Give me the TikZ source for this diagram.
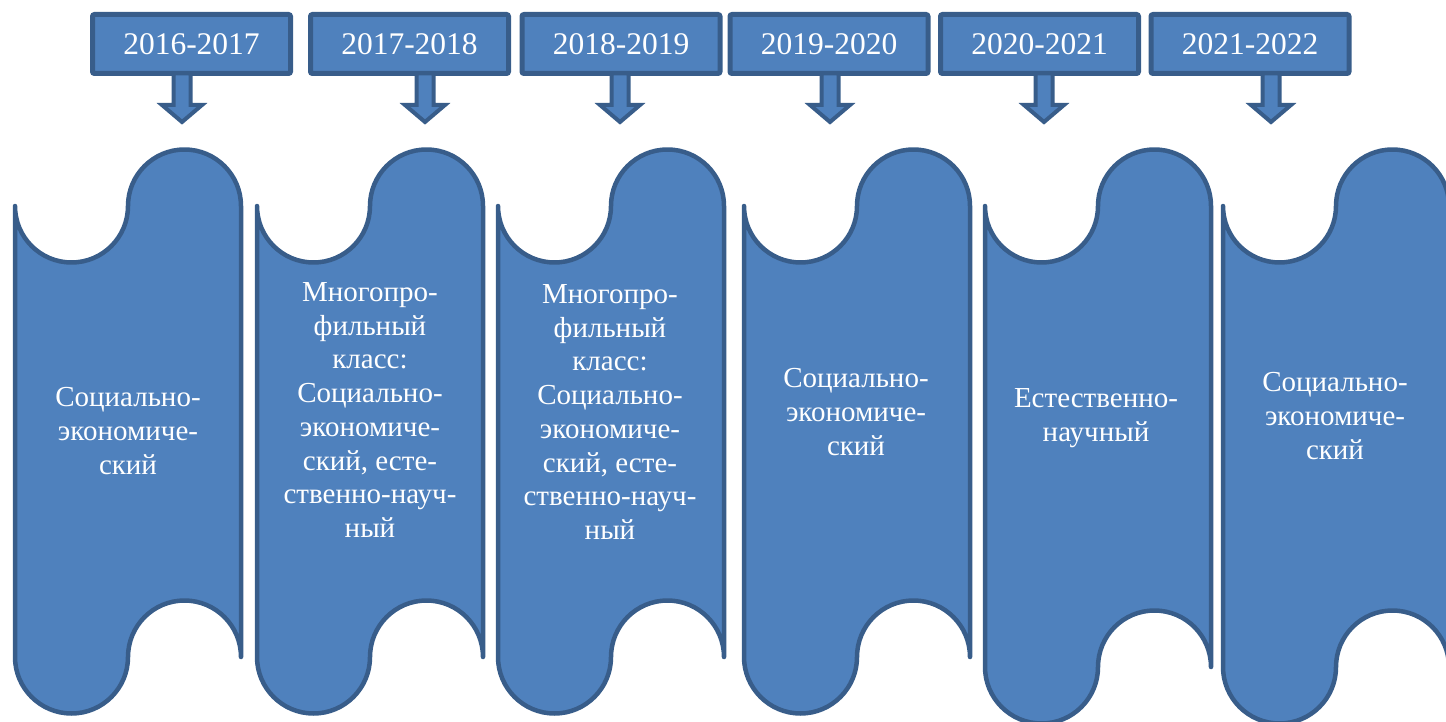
\documentclass[tikz,border=0pt]{standalone}
\usepackage{fontspec}
\setmainfont{Liberation Serif}
\definecolor{waveblue}{HTML}{4F81BD}
\definecolor{waveedge}{HTML}{385D8A}

\begin{document}
\begin{tikzpicture}[x=1pt, y=-1pt,
    wave/.style={fill=waveblue, draw=waveedge, line width=4.5pt, line join=round},
    yearbox/.style={fill=waveblue, draw=waveedge, line width=5pt, rounded corners=2pt,
      minimum width=198pt, minimum height=59pt, inner sep=0pt, text=white,
      font=\fontsize{31.5}{36}\selectfont},
    blockarrow/.style={fill=waveblue, draw=waveedge, line width=4pt, line join=miter},
    bannertext/.style={text=white, align=center, font=\fontsize{29}{33.7}\selectfont}]
  \useasboundingbox (0,0) rectangle (1446,722);

  % Draw the six wave banners (left edge / bottom line)
  \foreach \l/\b in {15/657, 257/657, 498/657, 744/657, 985/667, 1223/667}{
    \draw[wave] (\l,206) arc[start angle=180, end angle=0, radius=56.5]
      arc[start angle=180, end angle=360, radius=56.5] -- (\l+226,\b)
      arc[start angle=0, end angle=-180, radius=56.5]
      arc[start angle=0, end angle=180, radius=56.5] -- cycle;
  }

  % Texts inside the banners
  \node[bannertext] (t1) at (128,431) {Социально-\\экономиче-\\ский};
  \node[bannertext] (t2) at (370,410) {Многопро-\\фильный\\класс:\\Социально-\\экономиче-\\ский, есте-\\ственно-науч-\\ный};
  \node[bannertext] (t3) at (610,412) {Многопро-\\фильный\\класс:\\Социально-\\экономиче-\\ский, есте-\\ственно-науч-\\ный};
  \node[bannertext] (t4) at (856,412) {Социально-\\экономиче-\\ский};
  \node[bannertext] (t5) at (1096,418) {Естественно-\\научный};
  \node[bannertext] (t6) at (1335,416) {Социально-\\экономиче-\\ский};

  % School years on top
  \node[yearbox] (y1) at (191.5,44) {2016-2017};
  \node[yearbox] (y2) at (409.5,44) {2017-2018};
  \node[yearbox] (y3) at (621,44) {2018-2019};
  \node[yearbox] (y4) at (829,44) {2019-2020};
  \node[yearbox] (y5) at (1039.5,44) {2020-2021};
  \node[yearbox] (y6) at (1250,44) {2021-2022};

  % Block arrows from the years down to the banners
  \foreach \n/\dx in {1/-9.5, 2/15.5, 3/-1, 4/1, 5/4.5, 6/21}{
    \draw[blockarrow] ([xshift=\dx pt, yshift=2.5pt]y\n.south) ++(-8.5,0) -- ++(0,31.5)
      -- ++(-11.5,0) -- ++(20,17) -- ++(20,-17) -- ++(-11.5,0) -- ++(0,-31.5) -- cycle;
  }
\end{tikzpicture}
\end{document}
